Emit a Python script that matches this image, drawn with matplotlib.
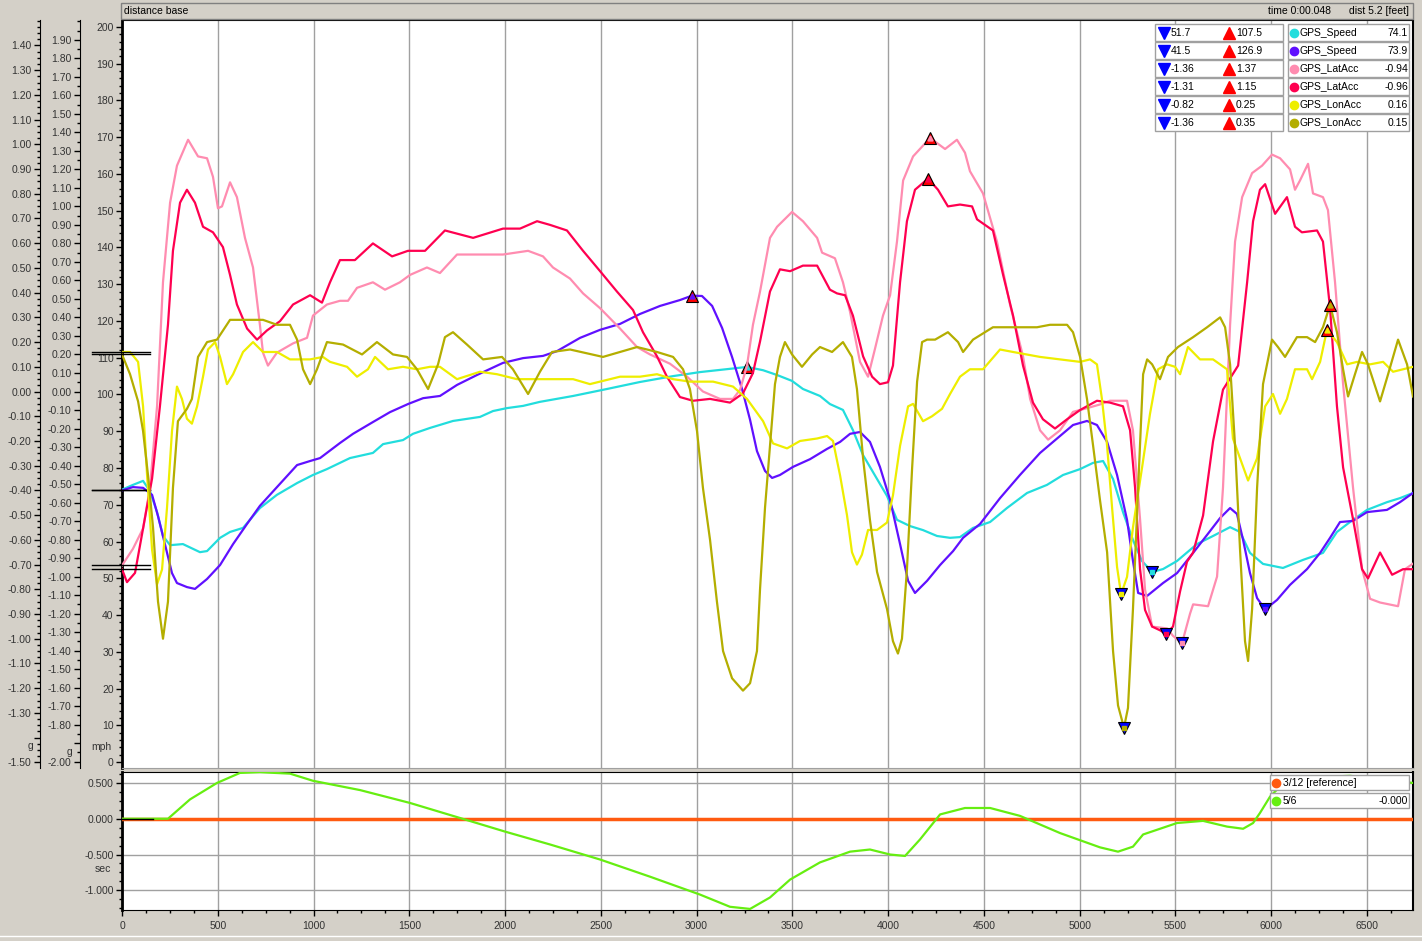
import numpy as np
import matplotlib.pyplot as plt
from matplotlib.patches import Rectangle
from matplotlib.lines import Line2D
from matplotlib.ticker import MultipleLocator, FixedLocator, FormatStrFormatter, FuncFormatter

plt.rcParams['font.family'] = ['Liberation Sans', 'DejaVu Sans']
plt.rcParams['font.size'] = 7.5

# distance in feet
cyan_x = [0, 57, 110, 146, 183, 214, 251, 318, 407, 444, 512, 564, 632, 720, 809, 914, 997, 1070, 1190, 1310,
          1363, 1467, 1519, 1608, 1728, 1869, 1937, 2010, 2094, 2182, 2355, 2532, 2704, 2877, 3018, 3159, 3263,
          3347, 3420, 3498, 3555, 3644, 3696, 3764, 3816, 3869, 3942, 3994, 4046, 4114, 4182, 4255, 4323, 4375,
          4443, 4532, 4620, 4725, 4829, 4913, 5002, 5070, 5122, 5174, 5226, 5278, 5325, 5378, 5435, 5508, 5612,
          5696, 5785, 5837, 5889, 5957, 6061, 6166, 6270, 6343, 6411, 6500, 6604, 6672, 6740]
cyan_mph = [74.1, 75.4, 76.5, 73.7, 68.0, 61.5, 59.0, 59.3, 57.1, 57.4, 61.0, 62.6, 63.7, 69.1, 72.7, 75.9, 78.1,
            79.7, 82.7, 84.1, 86.5, 87.6, 89.3, 90.9, 92.8, 93.9, 95.5, 96.3, 96.9, 98.0, 99.6, 101.5, 103.4,
            105.0, 106.1, 106.9, 107.5, 106.6, 105.3, 103.7, 101.5, 99.6, 97.4, 95.8, 90.3, 83.5, 77.0, 72.4,
            65.9, 64.2, 63.1, 61.5, 61.0, 61.2, 63.7, 65.3, 69.1, 73.2, 75.4, 78.1, 79.7, 81.4, 81.9, 77.0, 68.0,
            60.4, 54.7, 51.7, 52.5, 54.7, 59.3, 61.5, 63.9, 62.6, 56.9, 53.9, 52.8, 55.0, 56.9, 62.6, 65.3, 68.6,
            70.7, 71.8, 73.2]

purple_x = [0, 57, 110, 157, 188, 224, 261, 287, 339, 381, 444, 512, 580, 653, 720, 809, 914, 982, 1034, 1138,
            1206, 1310, 1399, 1493, 1572, 1660, 1749, 1853, 1989, 2094, 2198, 2271, 2391, 2496, 2600, 2704, 2809,
            2913, 2976, 3028, 3081, 3133, 3185, 3237, 3279, 3315, 3357, 3394, 3435, 3503, 3592, 3681, 3749, 3801,
            3853, 3905, 3957, 4010, 4062, 4104, 4140, 4203, 4271, 4339, 4391, 4480, 4584, 4688, 4793, 4897, 4965,
            5038, 5090, 5143, 5195, 5247, 5278, 5305, 5352, 5435, 5508, 5592, 5665, 5733, 5785, 5821, 5853, 5889,
            5926, 5968, 6030, 6098, 6187, 6255, 6307, 6359, 6427, 6500, 6604, 6672, 6740]
purple_mph = [73.9, 74.8, 74.6, 72.7, 66.9, 59.3, 51.4, 48.7, 47.6, 47.1, 49.8, 53.6, 59.3, 64.8, 69.7, 74.8,
              80.8, 81.9, 82.7, 86.8, 89.3, 92.5, 95.2, 97.4, 99.0, 99.6, 102.6, 105.3, 108.6, 109.9, 110.5,
              111.8, 115.4, 117.6, 119.2, 121.9, 124.1, 125.7, 126.9, 126.8, 124.1, 118.1, 110.2, 101.5, 93.1,
              84.6, 79.2, 77.3, 78.1, 80.3, 82.4, 85.2, 87.1, 89.3, 89.8, 87.1, 80.3, 71.3, 59.3, 49.3, 46.0,
              49.3, 53.6, 57.4, 61.0, 64.8, 71.8, 78.1, 84.1, 88.7, 91.7, 92.8, 91.7, 87.1, 78.1, 65.9, 54.7,
              46.0, 45.2, 48.7, 51.4, 56.9, 61.8, 66.4, 69.1, 67.5, 60.4, 51.4, 44.6, 41.5, 44.1, 48.2, 52.5,
              56.9, 61.0, 65.3, 65.6, 68.0, 68.6, 70.7, 73.2]

pink_x = [0, 57, 110, 146, 183, 214, 251, 287, 345, 397, 444, 475, 501, 522, 564, 600, 642, 684, 720, 736,
          762, 809, 893, 966, 997, 1070, 1138, 1180, 1227, 1310, 1373, 1451, 1504, 1592, 1660, 1749, 1869, 1989,
          2120, 2198, 2250, 2339, 2407, 2496, 2600, 2689, 2757, 2861, 2950, 3033, 3122, 3190, 3227, 3263, 3294,
          3331, 3383, 3420, 3498, 3555, 3629, 3655, 3722, 3764, 3801, 3853, 3895, 3931, 3973, 4010, 4046, 4078,
          4130, 4219, 4297, 4359, 4401, 4427, 4495, 4568, 4636, 4704, 4741, 4793, 4835, 4897, 4965, 5038, 5106,
          5158, 5247, 5278, 5315, 5341, 5378, 5456, 5487, 5534, 5576, 5592, 5670, 5717, 5748, 5785, 5811, 5848,
          5900, 5952, 6004, 6046, 6098, 6124, 6150, 6192, 6218, 6270, 6296, 6333, 6375, 6427, 6474, 6516, 6568,
          6662, 6698, 6740]
pink_g = [-0.94, -0.85, -0.74, -0.52, -0.08, 0.59, 1.02, 1.22, 1.36, 1.27, 1.26, 1.16, 0.99, 1.00, 1.13, 1.05,
          0.83, 0.67, 0.36, 0.21, 0.14, 0.21, 0.26, 0.29, 0.41, 0.47, 0.49, 0.49, 0.56, 0.59, 0.55, 0.59, 0.63,
          0.67, 0.64, 0.74, 0.74, 0.74, 0.76, 0.73, 0.67, 0.61, 0.53, 0.45, 0.34, 0.24, 0.20, 0.15, 0.08, 0.00,
          -0.04, -0.04, 0.01, 0.14, 0.36, 0.54, 0.83, 0.89, 0.97, 0.92, 0.83, 0.75, 0.72, 0.59, 0.43, 0.16, 0.08,
          0.23, 0.41, 0.52, 0.81, 1.14, 1.27, 1.37, 1.31, 1.36, 1.29, 1.19, 1.07, 0.81, 0.47, 0.19, -0.04, -0.21,
          -0.26, -0.21, -0.11, -0.09, -0.07, -0.05, -0.05, -0.21, -0.69, -1.07, -1.27, -1.28, -1.32, -1.36,
          -1.20, -1.15, -1.16, -1.00, -0.52, 0.36, 0.81, 1.05, 1.18, 1.22, 1.28, 1.26, 1.20, 1.09, 1.14, 1.23,
          1.07, 1.05, 0.98, 0.59, 0.04, -0.52, -0.96, -1.12, -1.14, -1.16, -0.96, -0.93]

red_x = [0, 26, 68, 110, 157, 198, 240, 266, 303, 339, 381, 423, 475, 527, 564, 600, 653, 705, 757, 825, 893,
         982, 1044, 1086, 1138, 1216, 1310, 1410, 1493, 1582, 1686, 1833, 1989, 2078, 2167, 2235, 2323, 2407,
         2496, 2584, 2668, 2720, 2793, 2845, 2913, 2981, 3070, 3174, 3242, 3294, 3331, 3383, 3435, 3488, 3555,
         3629, 3696, 3733, 3775, 3816, 3869, 3916, 3957, 3999, 4025, 4062, 4098, 4140, 4208, 4260, 4312, 4375,
         4438, 4464, 4547, 4600, 4652, 4704, 4756, 4808, 4871, 4934, 5002, 5090, 5158, 5226, 5263, 5289, 5315,
         5341, 5378, 5419, 5451, 5487, 5524, 5560, 5592, 5644, 5696, 5748, 5827, 5874, 5905, 5941, 5968, 6020,
         6082, 6124, 6160, 6239, 6270, 6307, 6343, 6375, 6427, 6474, 6505, 6568, 6631, 6688, 6740]
red_g = [-0.96, -1.03, -0.98, -0.74, -0.47, -0.08, 0.36, 0.76, 1.02, 1.09, 1.02, 0.89, 0.86, 0.78, 0.63, 0.47,
         0.34, 0.28, 0.33, 0.38, 0.47, 0.52, 0.48, 0.59, 0.71, 0.71, 0.80, 0.73, 0.76, 0.76, 0.87, 0.83, 0.88,
         0.88, 0.92, 0.90, 0.87, 0.76, 0.65, 0.54, 0.44, 0.32, 0.19, 0.08, -0.03, -0.05, -0.04, -0.06, -0.01,
         0.10, 0.27, 0.54, 0.66, 0.65, 0.68, 0.68, 0.55, 0.53, 0.52, 0.41, 0.19, 0.08, 0.04, 0.05, 0.14, 0.59,
         0.92, 1.09, 1.15, 1.09, 1.00, 1.01, 1.00, 0.93, 0.87, 0.63, 0.41, 0.14, -0.06, -0.15, -0.20, -0.15,
         -0.10, -0.05, -0.06, -0.08, -0.21, -0.52, -0.96, -1.18, -1.27, -1.29, -1.31, -1.27, -1.08, -0.92,
         -0.87, -0.67, -0.27, 0.01, 0.14, 0.59, 0.92, 1.09, 1.12, 0.96, 1.05, 0.89, 0.86, 0.87, 0.81, 0.45,
         -0.08, -0.41, -0.69, -0.96, -1.01, -0.87, -0.99, -0.96, -0.96]

yellow_x = [0, 42, 84, 110, 131, 157, 183, 209, 235, 261, 287, 313, 339, 365, 392, 423, 449, 486, 512, 548,
            580, 632, 684, 736, 809, 877, 982, 1049, 1086, 1175, 1227, 1284, 1321, 1389, 1467, 1540, 1608, 1660,
            1749, 1869, 1958, 2062, 2167, 2355, 2443, 2600, 2704, 2793, 2877, 2965, 3086, 3190, 3263, 3347, 3399,
            3472, 3540, 3629, 3681, 3712, 3749, 3785, 3811, 3837, 3863, 3895, 3942, 3994, 4025, 4062, 4104, 4130,
            4182, 4229, 4281, 4323, 4375, 4427, 4495, 4584, 4652, 4793, 4897, 5002, 5054, 5090, 5116, 5143, 5169,
            5195, 5216, 5247, 5278, 5325, 5367, 5409, 5456, 5498, 5524, 5565, 5628, 5696, 5769, 5800, 5837, 5879,
            5926, 5968, 6009, 6046, 6082, 6124, 6187, 6213, 6255, 6291, 6343, 6396, 6448, 6516, 6584, 6636, 6688,
            6740]
yellow_g = [0.16, 0.16, 0.12, -0.06, -0.34, -0.64, -0.78, -0.72, -0.47, -0.16, 0.02, -0.03, -0.11, -0.13,
            -0.06, 0.06, 0.17, 0.20, 0.14, 0.03, 0.07, 0.16, 0.20, 0.16, 0.16, 0.13, 0.13, 0.14, 0.12, 0.10,
            0.06, 0.09, 0.14, 0.09, 0.10, 0.09, 0.10, 0.10, 0.05, 0.08, 0.07, 0.05, 0.05, 0.05, 0.03, 0.06, 0.06,
            0.07, 0.05, 0.04, 0.04, 0.02, -0.03, -0.12, -0.21, -0.23, -0.20, -0.19, -0.18, -0.20, -0.34, -0.50,
            -0.65, -0.70, -0.66, -0.56, -0.56, -0.53, -0.42, -0.22, -0.06, -0.05, -0.12, -0.10, -0.07, -0.01,
            0.06, 0.09, 0.09, 0.17, 0.16, 0.14, 0.13, 0.12, 0.13, 0.11, -0.03, -0.22, -0.47, -0.71, -0.82,
            -0.75, -0.55, -0.31, -0.09, 0.09, 0.11, 0.10, 0.07, 0.18, 0.13, 0.13, 0.09, -0.19, -0.27, -0.36,
            -0.27, -0.06, -0.01, -0.09, -0.03, 0.09, 0.09, 0.05, 0.12, 0.25, 0.20, 0.11, 0.12, 0.11, 0.12, 0.08,
            0.09, 0.10]

olive_x = [0, 42, 84, 110, 136, 162, 188, 214, 240, 266, 292, 339, 365, 397, 444, 496, 564, 653, 736, 809, 877,
           914, 945, 982, 1018, 1070, 1154, 1253, 1331, 1415, 1488, 1540, 1598, 1650, 1686, 1728, 1801, 1885,
           1984, 2041, 2120, 2182, 2245, 2339, 2511, 2600, 2689, 2793, 2877, 2929, 2965, 3002, 3033, 3070, 3106,
           3138, 3185, 3242, 3279, 3315, 3331, 3357, 3383, 3409, 3435, 3461, 3498, 3550, 3603, 3644, 3707, 3764,
           3811, 3837, 3869, 3905, 3942, 3994, 4025, 4051, 4072, 4098, 4125, 4151, 4177, 4203, 4245, 4312, 4365,
           4391, 4443, 4547, 4652, 4777, 4845, 4934, 4965, 5002, 5038, 5070, 5106, 5143, 5174, 5200, 5231, 5252,
           5278, 5305, 5331, 5352, 5378, 5419, 5461, 5513, 5592, 5665, 5733, 5759, 5785, 5811, 5837, 5863, 5879,
           5900, 5926, 5957, 6004, 6035, 6072, 6134, 6187, 6229, 6270, 6307, 6343, 6375, 6401, 6437, 6474, 6505,
           6568, 6610, 6662, 6709, 6740]
olive_g = [0.15, 0.07, -0.04, -0.16, -0.34, -0.55, -0.85, -1.00, -0.85, -0.39, -0.12, -0.07, -0.03, 0.14, 0.20,
           0.21, 0.29, 0.29, 0.29, 0.27, 0.27, 0.21, 0.09, 0.03, 0.09, 0.20, 0.19, 0.15, 0.20, 0.15, 0.14, 0.09,
           0.01, 0.11, 0.22, 0.24, 0.19, 0.13, 0.14, 0.09, -0.01, 0.08, 0.16, 0.17, 0.14, 0.16, 0.18, 0.16, 0.14,
           0.09, 0.01, -0.16, -0.39, -0.60, -0.85, -1.05, -1.16, -1.21, -1.18, -1.05, -0.80, -0.47, -0.22, 0.03,
           0.14, 0.20, 0.15, 0.10, 0.15, 0.18, 0.16, 0.20, 0.14, 0.01, -0.27, -0.52, -0.73, -0.88, -1.01, -1.06,
           -1.00, -0.72, -0.31, 0.04, 0.20, 0.21, 0.21, 0.24, 0.20, 0.16, 0.21, 0.26, 0.26, 0.26, 0.27, 0.27,
           0.24, 0.14, -0.03, -0.22, -0.44, -0.65, -1.05, -1.27, -1.36, -1.28, -0.88, -0.39, 0.07, 0.13, 0.11,
           0.05, 0.14, 0.18, 0.22, 0.26, 0.30, 0.26, 0.11, -0.22, -0.64, -1.01, -1.09, -0.88, -0.39, 0.03, 0.21,
           0.18, 0.14, 0.22, 0.22, 0.20, 0.26, 0.35, 0.24, 0.09, -0.02, 0.07, 0.16, 0.11, -0.04, 0.07, 0.21,
           0.11, -0.02]

# time difference 5/6 vs 3/12 [reference]
delta_x = [0, 240, 355, 496, 616, 720, 877, 997, 1243, 1504, 1765, 2000, 2235, 2496, 2757, 3018, 3174, 3279,
           3383, 3488, 3644, 3801, 3905, 4010, 4088, 4166, 4271, 4401, 4532, 4688, 4897, 5106, 5200, 5278, 5331,
           5508, 5644, 5769, 5853, 5905, 5941, 5994, 6046, 6150, 6411, 6740]
delta_sec = [0, 0, 0.27, 0.50, 0.64, 0.65, 0.63, 0.53, 0.40, 0.22, 0.01, -0.18, -0.36, -0.57, -0.81, -1.06,
             -1.23, -1.26, -1.10, -0.85, -0.61, -0.46, -0.43, -0.50, -0.52, -0.29, 0.06, 0.15, 0.15, 0.04, -0.20,
             -0.40, -0.46, -0.39, -0.22, -0.06, -0.03, -0.11, -0.14, -0.06, 0.08, 0.31, 0.45, 0.57, 0.60, 0.50]
delta_value = '-0.000'

W, H = 1422, 941
BG = '#d4d0c8'
TXT = '#333333'


def fx(px):
    return px / W


def fy(py):
    return 1 - py / H


def style_axis(a, side_pos=None):
    a.tick_params(axis='y', which='both', direction='out', colors='k', labelcolor=TXT,
                  labelsize=7.5, pad=2, width=1)
    a.tick_params(axis='y', which='major', length=4)
    a.tick_params(axis='y', which='minor', length=2)
    if side_pos is not None:
        a.spines['left'].set_position(('axes', side_pos))
        a.spines['left'].set_visible(True)
        a.yaxis.tick_left()
        for s in ['right', 'top', 'bottom']:
            a.spines[s].set_visible(False)
    a.spines['left'].set_color('k')


def skip_fmt(skip):
    # the unit label takes the place of one tick label
    def f(v, pos):
        if abs(v - skip) < 1e-6:
            return ''
        return '%.2f' % v
    return FuncFormatter(f)


fig = plt.figure(figsize=(W / 100, H / 100), dpi=100, facecolor=BG)

# ---------------- main panel ----------------
ax = fig.add_axes([fx(122), fy(768), fx(1413) - fx(122), fy(20) - fy(768)])
ax.set_xlim(0, 6740)
ax.set_ylim(-1.63, 201.9)
ax.set_xticks(np.arange(0, 6740, 500))
ax.tick_params(axis='x', bottom=False, labelbottom=False)
ax.grid(axis='x', color='#a0a0a0', lw=1)
ax.yaxis.set_major_locator(FixedLocator(np.arange(0, 201, 10)))
ax.yaxis.set_minor_locator(MultipleLocator(2))
ax.yaxis.set_major_formatter(FormatStrFormatter('%d'))
style_axis(ax)
ax.spines['left'].set_linewidth(2)
ax.spines['top'].set_color('k')
ax.spines['right'].set_color('k')
ax.spines['right'].set_linewidth(1.5)
ax.spines['bottom'].set_color('#a0a0a0')

ax_lat = ax.twinx()
ax_lat.set_ylim(-2.034, 2.007)
ax_lat.yaxis.set_major_locator(FixedLocator(np.round(np.arange(-2.0, 1.95, 0.1), 2)))
ax_lat.yaxis.set_minor_locator(MultipleLocator(0.05))
ax_lat.yaxis.set_major_formatter(skip_fmt(-1.9))
style_axis(ax_lat, (80 - 122) / 1291)

ax_lon = ax.twinx()
ax_lon.set_ylim(-1.523, 1.503)
ax_lon.yaxis.set_major_locator(FixedLocator(np.round(np.arange(-1.5, 1.45, 0.1), 2)))
ax_lon.yaxis.set_minor_locator(MultipleLocator(0.025))
ax_lon.yaxis.set_major_formatter(skip_fmt(-1.4))
style_axis(ax_lon, (40 - 122) / 1291)

series = [
    ('GPS_Speed', '#22dddd', cyan_x, cyan_mph, ax, '%.1f'),
    ('GPS_Speed', '#6010ff', purple_x, purple_mph, ax, '%.1f'),
    ('GPS_LatAcc', '#ff8cb0', pink_x, pink_g, ax_lat, '%.2f'),
    ('GPS_LatAcc', '#ff0050', red_x, red_g, ax_lat, '%.2f'),
    ('GPS_LonAcc', '#eeee00', yellow_x, yellow_g, ax_lon, '%.2f'),
    ('GPS_LonAcc', '#b4ae00', olive_x, olive_g, ax_lon, '%.2f'),
]

for name, col, xs, ys, a, fmt in series:
    a.plot(xs, ys, color=col, lw=1.6, zorder=3)

# cursor value ticks at the left edge
for name, col, xs, ys, a, fmt in series:
    a.plot([-0.023, 0.022], [ys[0], ys[0]], transform=a.get_yaxis_transform(),
           color='k', lw=1, clip_on=False, zorder=6)

# min / max markers on the traces
for name, col, xs, ys, a, fmt in series:
    i_max = int(np.argmax(ys))
    i_min = int(np.argmin(ys))
    a.plot(xs[i_max], ys[i_max], marker='^', ms=9, mfc='#ff0000', mec='k', mew=0.8, zorder=7)
    a.plot(xs[i_max], ys[i_max], marker='^', ms=3.5, mfc=col, mec=col, zorder=8)
    a.plot(xs[i_min], ys[i_min], marker='v', ms=9, mfc='#0000ff', mec='k', mew=0.8, zorder=7)
    a.plot(xs[i_min], ys[i_min], marker='s', ms=3, mfc=col, mec=col, zorder=8)

fig.text(fx(33), fy(746), 'g', ha='right', va='center', color=TXT, fontsize=7.5)
fig.text(fx(72), fy(752), 'g', ha='right', va='center', color=TXT, fontsize=7.5)
fig.text(fx(111), fy(747), 'mph', ha='right', va='center', color=TXT, fontsize=7.5)

# ---------------- delta time panel ----------------
axb = fig.add_axes([fx(122), fy(910), fx(1413) - fx(122), fy(771.7) - fy(910)])
axb.set_xlim(0, 6740)
axb.set_ylim(-1.275, 0.657)
axb.set_xticks(np.arange(0, 6740, 500))
axb.xaxis.set_minor_locator(MultipleLocator(125))
axb.yaxis.set_major_locator(FixedLocator([-1.0, -0.5, 0.0, 0.5]))
axb.yaxis.set_minor_locator(MultipleLocator(0.125))
axb.yaxis.set_major_formatter(FormatStrFormatter('%.3f'))
axb.grid(True, color='#a0a0a0', lw=1)
axb.tick_params(axis='x', which='both', direction='out', colors='k', labelcolor=TXT,
                labelsize=7.5, pad=4, width=1)
axb.tick_params(axis='x', which='major', length=4)
axb.tick_params(axis='x', which='minor', length=2)
style_axis(axb)
axb.spines['left'].set_linewidth(2)
axb.spines['right'].set_linewidth(1.5)
for s in ['top', 'bottom', 'right']:
    axb.spines[s].set_color('k')

axb.axhline(0, color='#ff5a10', lw=2.5, zorder=3)
axb.plot(delta_x, delta_sec, color='#66ee11', lw=1.6, zorder=4)
axb.plot([0, 160], [0, 0], color='k', lw=1, zorder=5)
fig.text(fx(111), fy(869), 'sec', ha='right', va='center', color=TXT, fontsize=7.5)

# ---------------- header bar ----------------
fig.add_artist(Rectangle((fx(121), fy(19)), fx(1413) - fx(121), fy(3) - fy(19),
                         transform=fig.transFigure, facecolor=BG, edgecolor='#808080', lw=1))
fig.text(fx(124), fy(11), 'distance base', ha='left', va='center', color='k', fontsize=7.5)
fig.text(fx(1331), fy(11), 'time 0:00.048', ha='right', va='center', color='k', fontsize=7.5)
fig.text(fx(1409), fy(11), 'dist 5.2 [feet]', ha='right', va='center', color='k', fontsize=7.5)
fig.add_artist(Line2D([fx(0), fx(1422)], [fy(936), fy(936)], transform=fig.transFigure,
                      color='white', lw=1))


def box(x0, x1, top, h):
    fig.add_artist(Rectangle((fx(x0), fy(top + h)), fx(x1) - fx(x0), fy(top) - fy(top + h),
                             transform=fig.transFigure, facecolor='white', edgecolor='#a0a0a0',
                             lw=1, zorder=10))


def mark(px, py, m, col, ms):
    fig.add_artist(Line2D([fx(px)], [fy(py)], marker=m, ms=ms, mfc=col, mec=col,
                          transform=fig.transFigure, zorder=11))


# ---------------- legend table ----------------
for i, (name, col, xs, ys, a, fmt) in enumerate(series):
    top = 24 + 18 * i
    mid = top + 8.5
    box(1155, 1283, top, 17)
    box(1288, 1409, top, 17)
    mark(1164, mid, 'v', '#0000ff', 8)
    fig.text(fx(1171), fy(mid), fmt % min(ys), ha='left', va='center', color='k', fontsize=7.5, zorder=12)
    mark(1229, mid, '^', '#ff0000', 8)
    fig.text(fx(1236), fy(mid), fmt % max(ys), ha='left', va='center', color='k', fontsize=7.5, zorder=12)
    mark(1294, mid, 'o', col, 6)
    fig.text(fx(1300), fy(mid), name, ha='left', va='center', color='k', fontsize=7.5, zorder=12)
    fig.text(fx(1408), fy(mid), fmt % ys[0], ha='right', va='center', color='k', fontsize=7.5, zorder=12)

box(1270, 1409, 775, 15)
box(1270, 1409, 793, 15)
mark(1276, 782.5, 'o', '#ff5a10', 6)
mark(1276, 800.5, 'o', '#66ee11', 6)
fig.text(fx(1283), fy(782.5), '3/12 [reference]', ha='left', va='center', color='k', fontsize=7.5, zorder=12)
fig.text(fx(1283), fy(800.5), '5/6', ha='left', va='center', color='k', fontsize=7.5, zorder=12)
fig.text(fx(1408), fy(800.5), delta_value, ha='right', va='center', color='k', fontsize=7.5, zorder=12)

fig.savefig('out.png', dpi=100, facecolor=BG)
